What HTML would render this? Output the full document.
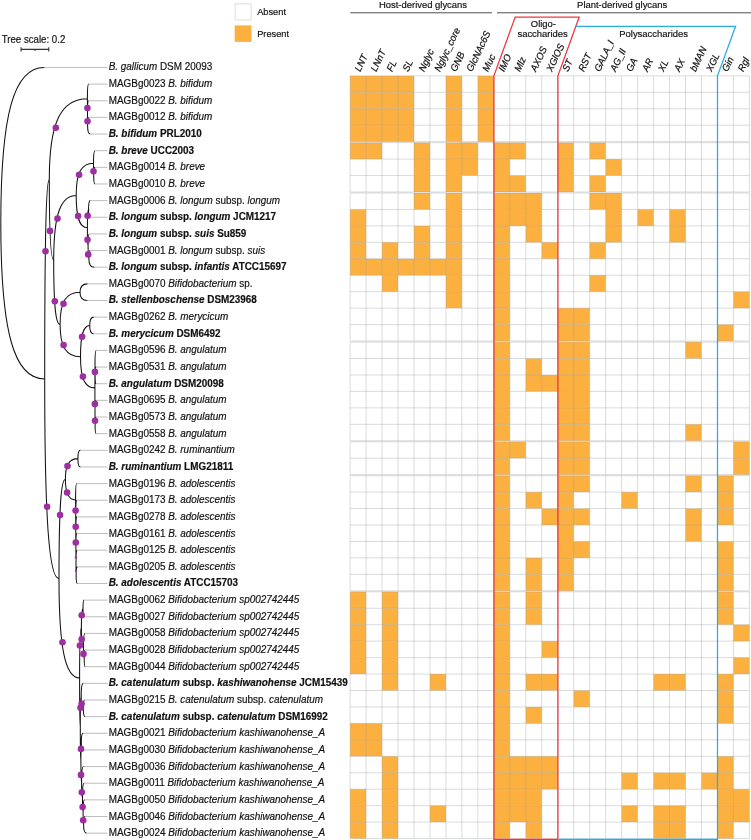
<!DOCTYPE html>
<html lang="en"><head><meta charset="utf-8"><title>Glycan utilisation heat map</title>
<style>html,body{margin:0;padding:0;background:#fff}svg{display:block}</style></head>
<body>
<svg width="751" height="840" viewBox="0 0 751 840">
<rect width="751" height="840" fill="#fff"/>
<g id="heatmap">
<rect x="350.10" y="75.85" width="63.89" height="16.45" fill="#FBB040"/>
<rect x="445.93" y="75.85" width="15.97" height="16.45" fill="#FBB040"/>
<rect x="477.88" y="75.85" width="15.97" height="16.45" fill="#FBB040"/>
<rect x="350.10" y="92.30" width="63.89" height="16.45" fill="#FBB040"/>
<rect x="445.93" y="92.30" width="15.97" height="16.45" fill="#FBB040"/>
<rect x="477.88" y="92.30" width="15.97" height="16.45" fill="#FBB040"/>
<rect x="350.10" y="108.75" width="63.89" height="16.45" fill="#FBB040"/>
<rect x="445.93" y="108.75" width="15.97" height="16.45" fill="#FBB040"/>
<rect x="477.88" y="108.75" width="15.97" height="16.45" fill="#FBB040"/>
<rect x="350.10" y="125.20" width="63.89" height="16.45" fill="#FBB040"/>
<rect x="445.93" y="125.20" width="15.97" height="16.45" fill="#FBB040"/>
<rect x="477.88" y="125.20" width="15.97" height="16.45" fill="#FBB040"/>
<rect x="350.10" y="142.65" width="31.94" height="16.45" fill="#FBB040"/>
<rect x="413.99" y="142.65" width="15.97" height="16.45" fill="#FBB040"/>
<rect x="445.93" y="142.65" width="31.94" height="16.45" fill="#FBB040"/>
<rect x="493.85" y="142.65" width="31.94" height="16.45" fill="#FBB040"/>
<rect x="557.74" y="142.65" width="15.97" height="16.45" fill="#FBB040"/>
<rect x="589.68" y="142.65" width="15.97" height="16.45" fill="#FBB040"/>
<rect x="413.99" y="159.10" width="15.97" height="16.45" fill="#FBB040"/>
<rect x="445.93" y="159.10" width="31.94" height="16.45" fill="#FBB040"/>
<rect x="493.85" y="159.10" width="15.97" height="16.45" fill="#FBB040"/>
<rect x="557.74" y="159.10" width="15.97" height="16.45" fill="#FBB040"/>
<rect x="605.65" y="159.10" width="15.97" height="16.45" fill="#FBB040"/>
<rect x="413.99" y="175.55" width="15.97" height="16.45" fill="#FBB040"/>
<rect x="445.93" y="175.55" width="15.97" height="16.45" fill="#FBB040"/>
<rect x="493.85" y="175.55" width="31.94" height="16.45" fill="#FBB040"/>
<rect x="557.74" y="175.55" width="15.97" height="16.45" fill="#FBB040"/>
<rect x="589.68" y="175.55" width="15.97" height="16.45" fill="#FBB040"/>
<rect x="413.99" y="193.00" width="15.97" height="16.45" fill="#FBB040"/>
<rect x="445.93" y="193.00" width="15.97" height="16.45" fill="#FBB040"/>
<rect x="493.85" y="193.00" width="47.92" height="16.45" fill="#FBB040"/>
<rect x="589.68" y="193.00" width="31.94" height="16.45" fill="#FBB040"/>
<rect x="350.10" y="209.45" width="15.97" height="16.45" fill="#FBB040"/>
<rect x="445.93" y="209.45" width="15.97" height="16.45" fill="#FBB040"/>
<rect x="493.85" y="209.45" width="47.92" height="16.45" fill="#FBB040"/>
<rect x="605.65" y="209.45" width="15.97" height="16.45" fill="#FBB040"/>
<rect x="637.60" y="209.45" width="15.97" height="16.45" fill="#FBB040"/>
<rect x="669.54" y="209.45" width="15.97" height="16.45" fill="#FBB040"/>
<rect x="350.10" y="225.90" width="15.97" height="16.45" fill="#FBB040"/>
<rect x="413.99" y="225.90" width="15.97" height="16.45" fill="#FBB040"/>
<rect x="445.93" y="225.90" width="15.97" height="16.45" fill="#FBB040"/>
<rect x="493.85" y="225.90" width="15.97" height="16.45" fill="#FBB040"/>
<rect x="525.79" y="225.90" width="15.97" height="16.45" fill="#FBB040"/>
<rect x="605.65" y="225.90" width="15.97" height="16.45" fill="#FBB040"/>
<rect x="669.54" y="225.90" width="15.97" height="16.45" fill="#FBB040"/>
<rect x="350.10" y="242.35" width="15.97" height="16.45" fill="#FBB040"/>
<rect x="382.04" y="242.35" width="15.97" height="16.45" fill="#FBB040"/>
<rect x="413.99" y="242.35" width="15.97" height="16.45" fill="#FBB040"/>
<rect x="445.93" y="242.35" width="15.97" height="16.45" fill="#FBB040"/>
<rect x="493.85" y="242.35" width="15.97" height="16.45" fill="#FBB040"/>
<rect x="541.76" y="242.35" width="15.97" height="16.45" fill="#FBB040"/>
<rect x="589.68" y="242.35" width="15.97" height="16.45" fill="#FBB040"/>
<rect x="350.10" y="258.80" width="111.80" height="16.45" fill="#FBB040"/>
<rect x="493.85" y="258.80" width="15.97" height="16.45" fill="#FBB040"/>
<rect x="382.04" y="275.25" width="15.97" height="16.45" fill="#FBB040"/>
<rect x="445.93" y="275.25" width="15.97" height="16.45" fill="#FBB040"/>
<rect x="493.85" y="275.25" width="15.97" height="16.45" fill="#FBB040"/>
<rect x="589.68" y="275.25" width="15.97" height="16.45" fill="#FBB040"/>
<rect x="445.93" y="291.70" width="15.97" height="16.45" fill="#FBB040"/>
<rect x="493.85" y="291.70" width="15.97" height="16.45" fill="#FBB040"/>
<rect x="733.43" y="291.70" width="15.97" height="16.45" fill="#FBB040"/>
<rect x="493.85" y="308.15" width="15.97" height="16.45" fill="#FBB040"/>
<rect x="557.74" y="308.15" width="31.94" height="16.45" fill="#FBB040"/>
<rect x="493.85" y="324.60" width="15.97" height="16.45" fill="#FBB040"/>
<rect x="557.74" y="324.60" width="31.94" height="16.45" fill="#FBB040"/>
<rect x="717.46" y="324.60" width="15.97" height="16.45" fill="#FBB040"/>
<rect x="493.85" y="342.05" width="15.97" height="16.45" fill="#FBB040"/>
<rect x="557.74" y="342.05" width="31.94" height="16.45" fill="#FBB040"/>
<rect x="685.51" y="342.05" width="15.97" height="16.45" fill="#FBB040"/>
<rect x="493.85" y="358.50" width="15.97" height="16.45" fill="#FBB040"/>
<rect x="525.79" y="358.50" width="15.97" height="16.45" fill="#FBB040"/>
<rect x="557.74" y="358.50" width="31.94" height="16.45" fill="#FBB040"/>
<rect x="493.85" y="374.95" width="15.97" height="16.45" fill="#FBB040"/>
<rect x="525.79" y="374.95" width="63.89" height="16.45" fill="#FBB040"/>
<rect x="493.85" y="391.40" width="15.97" height="16.45" fill="#FBB040"/>
<rect x="557.74" y="391.40" width="31.94" height="16.45" fill="#FBB040"/>
<rect x="493.85" y="407.85" width="15.97" height="16.45" fill="#FBB040"/>
<rect x="557.74" y="407.85" width="31.94" height="16.45" fill="#FBB040"/>
<rect x="493.85" y="424.30" width="15.97" height="16.45" fill="#FBB040"/>
<rect x="557.74" y="424.30" width="31.94" height="16.45" fill="#FBB040"/>
<rect x="685.51" y="424.30" width="15.97" height="16.45" fill="#FBB040"/>
<rect x="493.85" y="441.75" width="31.94" height="16.45" fill="#FBB040"/>
<rect x="557.74" y="441.75" width="31.94" height="16.45" fill="#FBB040"/>
<rect x="733.43" y="441.75" width="15.97" height="16.45" fill="#FBB040"/>
<rect x="493.85" y="458.20" width="15.97" height="16.45" fill="#FBB040"/>
<rect x="557.74" y="458.20" width="31.94" height="16.45" fill="#FBB040"/>
<rect x="733.43" y="458.20" width="15.97" height="16.45" fill="#FBB040"/>
<rect x="493.85" y="475.65" width="15.97" height="16.45" fill="#FBB040"/>
<rect x="557.74" y="475.65" width="31.94" height="16.45" fill="#FBB040"/>
<rect x="685.51" y="475.65" width="15.97" height="16.45" fill="#FBB040"/>
<rect x="717.46" y="475.65" width="15.97" height="16.45" fill="#FBB040"/>
<rect x="493.85" y="492.10" width="15.97" height="16.45" fill="#FBB040"/>
<rect x="525.79" y="492.10" width="15.97" height="16.45" fill="#FBB040"/>
<rect x="557.74" y="492.10" width="15.97" height="16.45" fill="#FBB040"/>
<rect x="621.62" y="492.10" width="15.97" height="16.45" fill="#FBB040"/>
<rect x="717.46" y="492.10" width="15.97" height="16.45" fill="#FBB040"/>
<rect x="493.85" y="508.55" width="15.97" height="16.45" fill="#FBB040"/>
<rect x="541.76" y="508.55" width="47.92" height="16.45" fill="#FBB040"/>
<rect x="685.51" y="508.55" width="15.97" height="16.45" fill="#FBB040"/>
<rect x="717.46" y="508.55" width="15.97" height="16.45" fill="#FBB040"/>
<rect x="493.85" y="525.00" width="15.97" height="16.45" fill="#FBB040"/>
<rect x="557.74" y="525.00" width="15.97" height="16.45" fill="#FBB040"/>
<rect x="685.51" y="525.00" width="15.97" height="16.45" fill="#FBB040"/>
<rect x="493.85" y="541.45" width="15.97" height="16.45" fill="#FBB040"/>
<rect x="557.74" y="541.45" width="31.94" height="16.45" fill="#FBB040"/>
<rect x="717.46" y="541.45" width="15.97" height="16.45" fill="#FBB040"/>
<rect x="493.85" y="557.90" width="15.97" height="16.45" fill="#FBB040"/>
<rect x="525.79" y="557.90" width="15.97" height="16.45" fill="#FBB040"/>
<rect x="557.74" y="557.90" width="15.97" height="16.45" fill="#FBB040"/>
<rect x="717.46" y="557.90" width="15.97" height="16.45" fill="#FBB040"/>
<rect x="493.85" y="574.35" width="15.97" height="16.45" fill="#FBB040"/>
<rect x="525.79" y="574.35" width="15.97" height="16.45" fill="#FBB040"/>
<rect x="557.74" y="574.35" width="15.97" height="16.45" fill="#FBB040"/>
<rect x="717.46" y="574.35" width="15.97" height="16.45" fill="#FBB040"/>
<rect x="350.10" y="591.80" width="15.97" height="16.45" fill="#FBB040"/>
<rect x="382.04" y="591.80" width="15.97" height="16.45" fill="#FBB040"/>
<rect x="493.85" y="591.80" width="15.97" height="16.45" fill="#FBB040"/>
<rect x="525.79" y="591.80" width="15.97" height="16.45" fill="#FBB040"/>
<rect x="717.46" y="591.80" width="15.97" height="16.45" fill="#FBB040"/>
<rect x="350.10" y="608.25" width="15.97" height="16.45" fill="#FBB040"/>
<rect x="382.04" y="608.25" width="15.97" height="16.45" fill="#FBB040"/>
<rect x="493.85" y="608.25" width="15.97" height="16.45" fill="#FBB040"/>
<rect x="525.79" y="608.25" width="15.97" height="16.45" fill="#FBB040"/>
<rect x="717.46" y="608.25" width="15.97" height="16.45" fill="#FBB040"/>
<rect x="350.10" y="624.70" width="15.97" height="16.45" fill="#FBB040"/>
<rect x="382.04" y="624.70" width="15.97" height="16.45" fill="#FBB040"/>
<rect x="493.85" y="624.70" width="15.97" height="16.45" fill="#FBB040"/>
<rect x="733.43" y="624.70" width="15.97" height="16.45" fill="#FBB040"/>
<rect x="350.10" y="641.15" width="15.97" height="16.45" fill="#FBB040"/>
<rect x="382.04" y="641.15" width="15.97" height="16.45" fill="#FBB040"/>
<rect x="493.85" y="641.15" width="15.97" height="16.45" fill="#FBB040"/>
<rect x="541.76" y="641.15" width="15.97" height="16.45" fill="#FBB040"/>
<rect x="350.10" y="657.60" width="15.97" height="16.45" fill="#FBB040"/>
<rect x="382.04" y="657.60" width="15.97" height="16.45" fill="#FBB040"/>
<rect x="493.85" y="657.60" width="15.97" height="16.45" fill="#FBB040"/>
<rect x="733.43" y="657.60" width="15.97" height="16.45" fill="#FBB040"/>
<rect x="382.04" y="674.05" width="15.97" height="16.45" fill="#FBB040"/>
<rect x="429.96" y="674.05" width="15.97" height="16.45" fill="#FBB040"/>
<rect x="493.85" y="674.05" width="15.97" height="16.45" fill="#FBB040"/>
<rect x="525.79" y="674.05" width="31.94" height="16.45" fill="#FBB040"/>
<rect x="653.57" y="674.05" width="31.94" height="16.45" fill="#FBB040"/>
<rect x="717.46" y="674.05" width="15.97" height="16.45" fill="#FBB040"/>
<rect x="493.85" y="690.50" width="15.97" height="16.45" fill="#FBB040"/>
<rect x="573.71" y="690.50" width="15.97" height="16.45" fill="#FBB040"/>
<rect x="717.46" y="690.50" width="15.97" height="16.45" fill="#FBB040"/>
<rect x="493.85" y="706.95" width="15.97" height="16.45" fill="#FBB040"/>
<rect x="525.79" y="706.95" width="15.97" height="16.45" fill="#FBB040"/>
<rect x="717.46" y="706.95" width="15.97" height="16.45" fill="#FBB040"/>
<rect x="350.10" y="723.40" width="31.94" height="16.45" fill="#FBB040"/>
<rect x="493.85" y="723.40" width="15.97" height="16.45" fill="#FBB040"/>
<rect x="350.10" y="739.85" width="31.94" height="16.45" fill="#FBB040"/>
<rect x="493.85" y="739.85" width="15.97" height="16.45" fill="#FBB040"/>
<rect x="382.04" y="756.30" width="15.97" height="16.45" fill="#FBB040"/>
<rect x="493.85" y="756.30" width="63.89" height="16.45" fill="#FBB040"/>
<rect x="717.46" y="756.30" width="15.97" height="16.45" fill="#FBB040"/>
<rect x="382.04" y="772.75" width="15.97" height="16.45" fill="#FBB040"/>
<rect x="493.85" y="772.75" width="63.89" height="16.45" fill="#FBB040"/>
<rect x="621.62" y="772.75" width="15.97" height="16.45" fill="#FBB040"/>
<rect x="653.57" y="772.75" width="31.94" height="16.45" fill="#FBB040"/>
<rect x="701.48" y="772.75" width="31.94" height="16.45" fill="#FBB040"/>
<rect x="350.10" y="789.20" width="15.97" height="16.45" fill="#FBB040"/>
<rect x="382.04" y="789.20" width="15.97" height="16.45" fill="#FBB040"/>
<rect x="493.85" y="789.20" width="47.92" height="16.45" fill="#FBB040"/>
<rect x="717.46" y="789.20" width="31.94" height="16.45" fill="#FBB040"/>
<rect x="350.10" y="805.65" width="15.97" height="16.45" fill="#FBB040"/>
<rect x="382.04" y="805.65" width="15.97" height="16.45" fill="#FBB040"/>
<rect x="429.96" y="805.65" width="15.97" height="16.45" fill="#FBB040"/>
<rect x="493.85" y="805.65" width="47.92" height="16.45" fill="#FBB040"/>
<rect x="621.62" y="805.65" width="15.97" height="16.45" fill="#FBB040"/>
<rect x="653.57" y="805.65" width="31.94" height="16.45" fill="#FBB040"/>
<rect x="717.46" y="805.65" width="31.94" height="16.45" fill="#FBB040"/>
<rect x="350.10" y="822.10" width="15.97" height="16.45" fill="#FBB040"/>
<rect x="382.04" y="822.10" width="15.97" height="16.45" fill="#FBB040"/>
<rect x="493.85" y="822.10" width="15.97" height="16.45" fill="#FBB040"/>
<rect x="525.79" y="822.10" width="15.97" height="16.45" fill="#FBB040"/>
<rect x="653.57" y="822.10" width="31.94" height="16.45" fill="#FBB040"/>
<rect x="717.46" y="822.10" width="15.97" height="16.45" fill="#FBB040"/>
<g stroke="#9aa0a6" stroke-opacity="0.45" stroke-width="0.85" fill="none">
<path d="M350.10 75.85V141.65M366.07 75.85V141.65M382.04 75.85V141.65M398.02 75.85V141.65M413.99 75.85V141.65M429.96 75.85V141.65M445.93 75.85V141.65M461.90 75.85V141.65M477.88 75.85V141.65M493.85 75.85V141.65M509.82 75.85V141.65M525.79 75.85V141.65M541.76 75.85V141.65M557.74 75.85V141.65M573.71 75.85V141.65M589.68 75.85V141.65M605.65 75.85V141.65M621.62 75.85V141.65M637.60 75.85V141.65M653.57 75.85V141.65M669.54 75.85V141.65M685.51 75.85V141.65M701.48 75.85V141.65M717.46 75.85V141.65M733.43 75.85V141.65M749.40 75.85V141.65M350.10 75.85H749.40M350.10 92.30H749.40M350.10 108.75H749.40M350.10 125.20H749.40M350.10 141.65H749.40"/>
<path d="M350.10 142.65V192.00M366.07 142.65V192.00M382.04 142.65V192.00M398.02 142.65V192.00M413.99 142.65V192.00M429.96 142.65V192.00M445.93 142.65V192.00M461.90 142.65V192.00M477.88 142.65V192.00M493.85 142.65V192.00M509.82 142.65V192.00M525.79 142.65V192.00M541.76 142.65V192.00M557.74 142.65V192.00M573.71 142.65V192.00M589.68 142.65V192.00M605.65 142.65V192.00M621.62 142.65V192.00M637.60 142.65V192.00M653.57 142.65V192.00M669.54 142.65V192.00M685.51 142.65V192.00M701.48 142.65V192.00M717.46 142.65V192.00M733.43 142.65V192.00M749.40 142.65V192.00M350.10 142.65H749.40M350.10 159.10H749.40M350.10 175.55H749.40M350.10 192.00H749.40"/>
<path d="M350.10 193.00V341.05M366.07 193.00V341.05M382.04 193.00V341.05M398.02 193.00V341.05M413.99 193.00V341.05M429.96 193.00V341.05M445.93 193.00V341.05M461.90 193.00V341.05M477.88 193.00V341.05M493.85 193.00V341.05M509.82 193.00V341.05M525.79 193.00V341.05M541.76 193.00V341.05M557.74 193.00V341.05M573.71 193.00V341.05M589.68 193.00V341.05M605.65 193.00V341.05M621.62 193.00V341.05M637.60 193.00V341.05M653.57 193.00V341.05M669.54 193.00V341.05M685.51 193.00V341.05M701.48 193.00V341.05M717.46 193.00V341.05M733.43 193.00V341.05M749.40 193.00V341.05M350.10 193.00H749.40M350.10 209.45H749.40M350.10 225.90H749.40M350.10 242.35H749.40M350.10 258.80H749.40M350.10 275.25H749.40M350.10 291.70H749.40M350.10 308.15H749.40M350.10 324.60H749.40M350.10 341.05H749.40"/>
<path d="M350.10 342.05V440.75M366.07 342.05V440.75M382.04 342.05V440.75M398.02 342.05V440.75M413.99 342.05V440.75M429.96 342.05V440.75M445.93 342.05V440.75M461.90 342.05V440.75M477.88 342.05V440.75M493.85 342.05V440.75M509.82 342.05V440.75M525.79 342.05V440.75M541.76 342.05V440.75M557.74 342.05V440.75M573.71 342.05V440.75M589.68 342.05V440.75M605.65 342.05V440.75M621.62 342.05V440.75M637.60 342.05V440.75M653.57 342.05V440.75M669.54 342.05V440.75M685.51 342.05V440.75M701.48 342.05V440.75M717.46 342.05V440.75M733.43 342.05V440.75M749.40 342.05V440.75M350.10 342.05H749.40M350.10 358.50H749.40M350.10 374.95H749.40M350.10 391.40H749.40M350.10 407.85H749.40M350.10 424.30H749.40M350.10 440.75H749.40"/>
<path d="M350.10 441.75V474.65M366.07 441.75V474.65M382.04 441.75V474.65M398.02 441.75V474.65M413.99 441.75V474.65M429.96 441.75V474.65M445.93 441.75V474.65M461.90 441.75V474.65M477.88 441.75V474.65M493.85 441.75V474.65M509.82 441.75V474.65M525.79 441.75V474.65M541.76 441.75V474.65M557.74 441.75V474.65M573.71 441.75V474.65M589.68 441.75V474.65M605.65 441.75V474.65M621.62 441.75V474.65M637.60 441.75V474.65M653.57 441.75V474.65M669.54 441.75V474.65M685.51 441.75V474.65M701.48 441.75V474.65M717.46 441.75V474.65M733.43 441.75V474.65M749.40 441.75V474.65M350.10 441.75H749.40M350.10 458.20H749.40M350.10 474.65H749.40"/>
<path d="M350.10 475.65V590.80M366.07 475.65V590.80M382.04 475.65V590.80M398.02 475.65V590.80M413.99 475.65V590.80M429.96 475.65V590.80M445.93 475.65V590.80M461.90 475.65V590.80M477.88 475.65V590.80M493.85 475.65V590.80M509.82 475.65V590.80M525.79 475.65V590.80M541.76 475.65V590.80M557.74 475.65V590.80M573.71 475.65V590.80M589.68 475.65V590.80M605.65 475.65V590.80M621.62 475.65V590.80M637.60 475.65V590.80M653.57 475.65V590.80M669.54 475.65V590.80M685.51 475.65V590.80M701.48 475.65V590.80M717.46 475.65V590.80M733.43 475.65V590.80M749.40 475.65V590.80M350.10 475.65H749.40M350.10 492.10H749.40M350.10 508.55H749.40M350.10 525.00H749.40M350.10 541.45H749.40M350.10 557.90H749.40M350.10 574.35H749.40M350.10 590.80H749.40"/>
<path d="M350.10 591.80V838.55M366.07 591.80V838.55M382.04 591.80V838.55M398.02 591.80V838.55M413.99 591.80V838.55M429.96 591.80V838.55M445.93 591.80V838.55M461.90 591.80V838.55M477.88 591.80V838.55M493.85 591.80V838.55M509.82 591.80V838.55M525.79 591.80V838.55M541.76 591.80V838.55M557.74 591.80V838.55M573.71 591.80V838.55M589.68 591.80V838.55M605.65 591.80V838.55M621.62 591.80V838.55M637.60 591.80V838.55M653.57 591.80V838.55M669.54 591.80V838.55M685.51 591.80V838.55M701.48 591.80V838.55M717.46 591.80V838.55M733.43 591.80V838.55M749.40 591.80V838.55M350.10 591.80H749.40M350.10 608.25H749.40M350.10 624.70H749.40M350.10 641.15H749.40M350.10 657.60H749.40M350.10 674.05H749.40M350.10 690.50H749.40M350.10 706.95H749.40M350.10 723.40H749.40M350.10 739.85H749.40M350.10 756.30H749.40M350.10 772.75H749.40M350.10 789.20H749.40M350.10 805.65H749.40M350.10 822.10H749.40M350.10 838.55H749.40"/>
</g>
</g>
<path d="M493.9 839.3L493.9 75.8L515.2 17L579.2 17L557.9 75.8L557.9 839.3Z" fill="none" stroke="#ee363c" stroke-width="1.25" stroke-linejoin="miter"/>
<path d="M575.8 26.3L735.6 26.3L717.5 75.8L717.5 839.3L558.6 839.3" fill="none" stroke="#2aace2" stroke-width="1.25" stroke-linejoin="miter"/>
<g font-family="Liberation Sans, Arial, sans-serif" font-size="9.83" fill="#111" stroke="#111" stroke-width="0.18">
<text transform="translate(423.00 8.30) scale(0.9615 1)" text-anchor="middle">Host-derived glycans</text>
<text transform="translate(622.20 8.30) scale(0.9615 1)" text-anchor="middle">Plant-derived glycans</text>
<text transform="translate(543.40 26.90) scale(0.9615 1)" text-anchor="middle">Oligo-</text>
<text transform="translate(542.60 36.60) scale(0.9615 1)" text-anchor="middle">saccharides</text>
<text transform="translate(653.60 36.90) scale(0.9615 1)" text-anchor="middle">Polysaccharides</text>
<text transform="translate(257.20 14.60) scale(0.9615 1)" font-size="9.62">Absent</text>
<text transform="translate(257.20 36.70) scale(0.9615 1)" font-size="9.62">Present</text>
<text transform="translate(1.70 42.90) scale(0.9615 1)" font-size="10.07">Tree scale: 0.2</text>
</g>
<path d="M350.3 12.8H491.9M497 12.8H751" stroke="#4d4d4d" stroke-width="1" fill="none"/>
<rect x="235.1" y="3.9" width="16" height="16.1" fill="#fff" stroke="#cdcdcd" stroke-width="0.7"/>
<rect x="234.7" y="25.4" width="16.8" height="16.5" fill="#FBB040"/>
<path d="M21.1 49.4H48.8M21.1 47.2V51.6M48.8 47.2V51.6M35 49.4V51" stroke="#333" stroke-width="1.1" fill="none"/>
<g font-family="Liberation Sans, Arial, sans-serif" font-size="9.83" fill="#111" stroke="#111" stroke-width="0.18" font-style="italic">
<text transform="translate(360.3 72.3) rotate(-64.5) scale(0.9615 1)">LNT</text>
<text transform="translate(376.3 72.3) rotate(-64.5) scale(0.9615 1)">LNnT</text>
<text transform="translate(392.2 72.3) rotate(-64.5) scale(0.9615 1)">FL</text>
<text transform="translate(408.2 72.3) rotate(-64.5) scale(0.9615 1)">SL</text>
<text transform="translate(424.2 72.3) rotate(-64.5) scale(0.9615 1)">Nglyc</text>
<text transform="translate(440.1 72.3) rotate(-64.5) scale(0.9615 1)">Nglyc_core</text>
<text transform="translate(456.1 72.3) rotate(-64.5) scale(0.9615 1)">GNB</text>
<text transform="translate(472.1 72.3) rotate(-64.5) scale(0.9615 1)">GlcNAc6S</text>
<text transform="translate(488.1 72.3) rotate(-64.5) scale(0.9615 1)">Muc</text>
<text transform="translate(504.0 72.3) rotate(-64.5) scale(0.9615 1)">IMO</text>
<text transform="translate(520.0 72.3) rotate(-64.5) scale(0.9615 1)">Mlz</text>
<text transform="translate(536.0 72.3) rotate(-64.5) scale(0.9615 1)">AXOS</text>
<text transform="translate(552.0 72.3) rotate(-64.5) scale(0.9615 1)">XGlOS</text>
<text transform="translate(567.9 72.3) rotate(-64.5) scale(0.9615 1)">ST</text>
<text transform="translate(583.9 72.3) rotate(-64.5) scale(0.9615 1)">RST</text>
<text transform="translate(599.9 72.3) rotate(-64.5) scale(0.9615 1)">GALA_I</text>
<text transform="translate(615.8 72.3) rotate(-64.5) scale(0.9615 1)">AG_II</text>
<text transform="translate(631.8 72.3) rotate(-64.5) scale(0.9615 1)">GA</text>
<text transform="translate(647.8 72.3) rotate(-64.5) scale(0.9615 1)">AR</text>
<text transform="translate(663.8 72.3) rotate(-64.5) scale(0.9615 1)">XL</text>
<text transform="translate(679.7 72.3) rotate(-64.5) scale(0.9615 1)">AX</text>
<text transform="translate(695.7 72.3) rotate(-64.5) scale(0.9615 1)">bMAN</text>
<text transform="translate(711.7 72.3) rotate(-64.5) scale(0.9615 1)">XGL</text>
<text transform="translate(727.6 72.3) rotate(-64.5) scale(0.9615 1)">Gin</text>
<text transform="translate(743.6 72.3) rotate(-64.5) scale(0.9615 1)">Rgl</text>
</g>
<g font-family="Liberation Sans, Arial, sans-serif" font-size="10.32" fill="#111" stroke="#111" stroke-width="0.18">
<text transform="translate(108.7 70.45) scale(0.9615 1)" xml:space="preserve"><tspan font-style="italic">B. gallicum</tspan><tspan> DSM 20093</tspan></text>
<text transform="translate(108.7 87.10) scale(0.9615 1)" xml:space="preserve"><tspan>MAGBg0023 </tspan><tspan font-style="italic">B. bifidum</tspan></text>
<text transform="translate(108.7 103.74) scale(0.9615 1)" xml:space="preserve"><tspan>MAGBg0022 </tspan><tspan font-style="italic">B. bifidum</tspan></text>
<text transform="translate(108.7 120.39) scale(0.9615 1)" xml:space="preserve"><tspan>MAGBg0012 </tspan><tspan font-style="italic">B. bifidum</tspan></text>
<text transform="translate(108.7 137.03) scale(0.9615 1)" font-weight="bold" xml:space="preserve"><tspan font-style="italic">B. bifidum</tspan><tspan> PRL2010</tspan></text>
<text transform="translate(108.7 153.68) scale(0.9615 1)" font-weight="bold" xml:space="preserve"><tspan font-style="italic">B. breve</tspan><tspan> UCC2003</tspan></text>
<text transform="translate(108.7 170.33) scale(0.9615 1)" xml:space="preserve"><tspan>MAGBg0014 </tspan><tspan font-style="italic">B. breve</tspan></text>
<text transform="translate(108.7 186.97) scale(0.9615 1)" xml:space="preserve"><tspan>MAGBg0010 </tspan><tspan font-style="italic">B. breve</tspan></text>
<text transform="translate(108.7 203.62) scale(0.9615 1)" xml:space="preserve"><tspan>MAGBg0006 </tspan><tspan font-style="italic">B. longum</tspan><tspan> subsp. </tspan><tspan font-style="italic">longum</tspan></text>
<text transform="translate(108.7 220.26) scale(0.9615 1)" font-weight="bold" xml:space="preserve"><tspan font-style="italic">B. longum</tspan><tspan> subsp. </tspan><tspan font-style="italic">longum</tspan><tspan> JCM1217</tspan></text>
<text transform="translate(108.7 236.91) scale(0.9615 1)" font-weight="bold" xml:space="preserve"><tspan font-style="italic">B. longum</tspan><tspan> subsp. </tspan><tspan font-style="italic">suis</tspan><tspan> Su859</tspan></text>
<text transform="translate(108.7 253.56) scale(0.9615 1)" xml:space="preserve"><tspan>MAGBg0001 </tspan><tspan font-style="italic">B. longum</tspan><tspan> subsp. </tspan><tspan font-style="italic">suis</tspan></text>
<text transform="translate(108.7 270.20) scale(0.9615 1)" font-weight="bold" xml:space="preserve"><tspan font-style="italic">B. longum</tspan><tspan> subsp. </tspan><tspan font-style="italic">infantis</tspan><tspan> ATCC15697</tspan></text>
<text transform="translate(108.7 286.85) scale(0.9615 1)" xml:space="preserve"><tspan>MAGBg0070 </tspan><tspan font-style="italic">Bifidobacterium</tspan><tspan> sp.</tspan></text>
<text transform="translate(108.7 303.49) scale(0.9615 1)" font-weight="bold" xml:space="preserve"><tspan font-style="italic">B. stellenboschense</tspan><tspan> DSM23968</tspan></text>
<text transform="translate(108.7 320.14) scale(0.9615 1)" xml:space="preserve"><tspan>MAGBg0262 </tspan><tspan font-style="italic">B. merycicum</tspan></text>
<text transform="translate(108.7 336.79) scale(0.9615 1)" font-weight="bold" xml:space="preserve"><tspan font-style="italic">B. merycicum</tspan><tspan> DSM6492</tspan></text>
<text transform="translate(108.7 353.43) scale(0.9615 1)" xml:space="preserve"><tspan>MAGBg0596 </tspan><tspan font-style="italic">B. angulatum</tspan></text>
<text transform="translate(108.7 370.08) scale(0.9615 1)" xml:space="preserve"><tspan>MAGBg0531 </tspan><tspan font-style="italic">B. angulatum</tspan></text>
<text transform="translate(108.7 386.72) scale(0.9615 1)" font-weight="bold" xml:space="preserve"><tspan font-style="italic">B. angulatum</tspan><tspan> DSM20098</tspan></text>
<text transform="translate(108.7 403.37) scale(0.9615 1)" xml:space="preserve"><tspan>MAGBg0695 </tspan><tspan font-style="italic">B. angulatum</tspan></text>
<text transform="translate(108.7 420.02) scale(0.9615 1)" xml:space="preserve"><tspan>MAGBg0573 </tspan><tspan font-style="italic">B. angulatum</tspan></text>
<text transform="translate(108.7 436.66) scale(0.9615 1)" xml:space="preserve"><tspan>MAGBg0558 </tspan><tspan font-style="italic">B. angulatum</tspan></text>
<text transform="translate(108.7 453.31) scale(0.9615 1)" xml:space="preserve"><tspan>MAGBg0242 </tspan><tspan font-style="italic">B. ruminantium</tspan></text>
<text transform="translate(108.7 469.95) scale(0.9615 1)" font-weight="bold" xml:space="preserve"><tspan font-style="italic">B. ruminantium</tspan><tspan> LMG21811</tspan></text>
<text transform="translate(108.7 486.60) scale(0.9615 1)" xml:space="preserve"><tspan>MAGBg0196 </tspan><tspan font-style="italic">B. adolescentis</tspan></text>
<text transform="translate(108.7 503.25) scale(0.9615 1)" xml:space="preserve"><tspan>MAGBg0173 </tspan><tspan font-style="italic">B. adolescentis</tspan></text>
<text transform="translate(108.7 519.89) scale(0.9615 1)" xml:space="preserve"><tspan>MAGBg0278 </tspan><tspan font-style="italic">B. adolescentis</tspan></text>
<text transform="translate(108.7 536.54) scale(0.9615 1)" xml:space="preserve"><tspan>MAGBg0161 </tspan><tspan font-style="italic">B. adolescentis</tspan></text>
<text transform="translate(108.7 553.18) scale(0.9615 1)" xml:space="preserve"><tspan>MAGBg0125 </tspan><tspan font-style="italic">B. adolescentis</tspan></text>
<text transform="translate(108.7 569.83) scale(0.9615 1)" xml:space="preserve"><tspan>MAGBg0205 </tspan><tspan font-style="italic">B. adolescentis</tspan></text>
<text transform="translate(108.7 586.48) scale(0.9615 1)" font-weight="bold" xml:space="preserve"><tspan font-style="italic">B. adolescentis</tspan><tspan> ATCC15703</tspan></text>
<text transform="translate(108.7 603.12) scale(0.9615 1)" xml:space="preserve"><tspan>MAGBg0062 </tspan><tspan font-style="italic">Bifidobacterium sp002742445</tspan></text>
<text transform="translate(108.7 619.77) scale(0.9615 1)" xml:space="preserve"><tspan>MAGBg0027 </tspan><tspan font-style="italic">Bifidobacterium sp002742445</tspan></text>
<text transform="translate(108.7 636.41) scale(0.9615 1)" xml:space="preserve"><tspan>MAGBg0058 </tspan><tspan font-style="italic">Bifidobacterium sp002742445</tspan></text>
<text transform="translate(108.7 653.06) scale(0.9615 1)" xml:space="preserve"><tspan>MAGBg0028 </tspan><tspan font-style="italic">Bifidobacterium sp002742445</tspan></text>
<text transform="translate(108.7 669.71) scale(0.9615 1)" xml:space="preserve"><tspan>MAGBg0044 </tspan><tspan font-style="italic">Bifidobacterium sp002742445</tspan></text>
<text transform="translate(108.7 686.35) scale(0.9615 1)" font-weight="bold" xml:space="preserve"><tspan font-style="italic">B. catenulatum</tspan><tspan> subsp. </tspan><tspan font-style="italic">kashiwanohense</tspan><tspan> JCM15439</tspan></text>
<text transform="translate(108.7 703.00) scale(0.9615 1)" xml:space="preserve"><tspan>MAGBg0215 </tspan><tspan font-style="italic">B. catenulatum</tspan><tspan> subsp. </tspan><tspan font-style="italic">catenulatum</tspan></text>
<text transform="translate(108.7 719.64) scale(0.9615 1)" font-weight="bold" xml:space="preserve"><tspan font-style="italic">B. catenulatum</tspan><tspan> subsp. </tspan><tspan font-style="italic">catenulatum</tspan><tspan> DSM16992</tspan></text>
<text transform="translate(108.7 736.29) scale(0.9615 1)" xml:space="preserve"><tspan>MAGBg0021 </tspan><tspan font-style="italic">Bifidobacterium kashiwanohense_A</tspan></text>
<text transform="translate(108.7 752.94) scale(0.9615 1)" xml:space="preserve"><tspan>MAGBg0030 </tspan><tspan font-style="italic">Bifidobacterium kashiwanohense_A</tspan></text>
<text transform="translate(108.7 769.58) scale(0.9615 1)" xml:space="preserve"><tspan>MAGBg0036 </tspan><tspan font-style="italic">Bifidobacterium kashiwanohense_A</tspan></text>
<text transform="translate(108.7 786.23) scale(0.9615 1)" xml:space="preserve"><tspan>MAGBg0011 </tspan><tspan font-style="italic">Bifidobacterium kashiwanohense_A</tspan></text>
<text transform="translate(108.7 802.87) scale(0.9615 1)" xml:space="preserve"><tspan>MAGBg0050 </tspan><tspan font-style="italic">Bifidobacterium kashiwanohense_A</tspan></text>
<text transform="translate(108.7 819.52) scale(0.9615 1)" xml:space="preserve"><tspan>MAGBg0046 </tspan><tspan font-style="italic">Bifidobacterium kashiwanohense_A</tspan></text>
<text transform="translate(108.7 836.17) scale(0.9615 1)" xml:space="preserve"><tspan>MAGBg0024 </tspan><tspan font-style="italic">Bifidobacterium kashiwanohense_A</tspan></text>
</g>
<path d="M44.20 67.45H107.5M88.60 84.10H107.5M88.60 100.74H107.5M88.60 117.39H107.5M90.30 134.03H107.5M95.00 150.68H107.5M95.00 167.33H107.5M95.00 183.97H107.5M90.20 200.62H107.5M89.60 217.26H107.5M89.20 233.91H107.5M89.80 250.56H107.5M94.30 267.20H107.5M87.40 283.85H107.5M87.40 300.49H107.5M93.60 317.14H107.5M93.60 333.79H107.5M96.20 350.43H107.5M96.20 367.08H107.5M96.20 383.72H107.5M96.20 400.37H107.5M96.20 417.02H107.5M96.20 433.66H107.5M80.40 450.31H107.5M80.40 466.95H107.5M76.60 483.60H107.5M76.80 500.25H107.5M77.00 516.89H107.5M77.00 533.54H107.5M77.20 550.18H107.5M77.60 566.83H107.5M77.40 583.48H107.5M84.00 600.12H107.5M84.00 616.77H107.5M85.00 633.41H107.5M85.20 650.06H107.5M85.20 666.71H107.5M83.20 683.35H107.5M84.60 700.00H107.5M85.00 716.64H107.5M83.20 733.29H107.5M82.30 749.94H107.5M83.50 766.58H107.5M84.00 783.23H107.5M84.50 799.87H107.5M85.00 816.52H107.5M86.50 833.17H107.5" fill="none" stroke="#b6b6b6" stroke-width="0.9"/>
<path d="M0.80 223.21C0.80 114.18 13.82 67.45 44.20 67.45M0.80 223.21C0.80 332.25 13.97 378.98 44.70 378.98M44.70 378.98C44.70 239.20 46.08 179.29 49.30 179.29M49.30 179.29C49.30 122.85 60.73 98.66 87.40 98.66M87.40 98.66C87.40 88.47 87.76 84.10 88.60 84.10M87.40 98.66C87.40 108.86 87.43 113.23 87.50 113.23M87.50 113.23C87.50 104.49 87.83 100.74 88.60 100.74M87.50 113.23C87.50 121.97 87.53 125.71 87.60 125.71M87.60 125.71C87.60 119.88 87.90 117.39 88.60 117.39M87.60 125.71C87.60 131.54 88.41 134.03 90.30 134.03M49.30 179.29C49.30 235.73 50.62 259.92 53.70 259.92M53.70 259.92C53.70 214.77 60.45 195.42 76.20 195.42M76.20 195.42C76.20 172.84 81.39 163.16 93.50 163.16M93.50 163.16C93.50 154.43 93.95 150.68 95.00 150.68M93.50 163.16C93.50 171.90 93.56 175.65 93.70 175.65M93.70 175.65C93.70 169.82 94.09 167.33 95.00 167.33M93.70 175.65C93.70 181.48 94.09 183.97 95.00 183.97M76.20 195.42C76.20 217.99 79.56 227.67 87.40 227.67M87.40 227.67C87.40 214.56 87.76 208.94 88.60 208.94M88.60 208.94C88.60 203.11 89.08 200.62 90.20 200.62M88.60 208.94C88.60 214.77 88.90 217.26 89.60 217.26M87.40 227.67C87.40 240.78 87.61 246.39 88.10 246.39M88.10 246.39C88.10 237.66 88.43 233.91 89.20 233.91M88.10 246.39C88.10 255.13 88.34 258.88 88.90 258.88M88.90 258.88C88.90 253.05 89.17 250.56 89.80 250.56M88.90 258.88C88.90 264.71 90.52 267.20 94.30 267.20M53.70 259.92C53.70 305.07 55.62 324.42 60.10 324.42M60.10 324.42C60.10 301.85 66.07 292.17 80.00 292.17M80.00 292.17C80.00 286.34 82.22 283.85 87.40 283.85M80.00 292.17C80.00 298.00 82.22 300.49 87.40 300.49M60.10 324.42C60.10 347.00 66.22 356.67 80.50 356.67M80.50 356.67C80.50 334.83 83.26 325.46 89.70 325.46M89.70 325.46C89.70 319.64 90.87 317.14 93.60 317.14M89.70 325.46C89.70 331.29 90.87 333.79 93.60 333.79M80.50 356.67C80.50 378.52 84.82 387.89 94.90 387.89M94.90 387.89C94.90 370.41 94.93 362.92 95.00 362.92M95.00 362.92C95.00 354.18 95.36 350.43 96.20 350.43M95.00 362.92C95.00 371.66 95.03 375.40 95.10 375.40M95.10 375.40C95.10 369.57 95.43 367.08 96.20 367.08M95.10 375.40C95.10 381.23 95.43 383.72 96.20 383.72M94.90 387.89C94.90 405.36 94.93 412.85 95.00 412.85M95.00 412.85C95.00 404.12 95.36 400.37 96.20 400.37M95.00 412.85C95.00 421.59 95.03 425.34 95.10 425.34M95.10 425.34C95.10 419.51 95.43 417.02 96.20 417.02M95.10 425.34C95.10 431.17 95.43 433.66 96.20 433.66M44.70 378.98C44.70 518.76 48.99 578.66 59.00 578.66M59.00 578.66C59.00 509.12 60.92 479.31 65.40 479.31M65.40 479.31C65.40 464.83 69.15 458.63 77.90 458.63M77.90 458.63C77.90 452.80 78.65 450.31 80.40 450.31M77.90 458.63C77.90 464.46 78.65 466.95 80.40 466.95M65.40 479.31C65.40 493.78 68.46 499.99 75.60 499.99M75.60 499.99C75.60 488.52 75.90 483.60 76.60 483.60M75.60 499.99C75.60 511.46 75.63 516.37 75.70 516.37M75.70 516.37C75.70 505.08 76.03 500.25 76.80 500.25M75.70 516.37C75.70 527.66 75.73 532.50 75.80 532.50M75.80 532.50C75.80 521.57 76.16 516.89 77.00 516.89M75.80 532.50C75.80 543.42 75.83 548.10 75.90 548.10M75.90 548.10C75.90 537.91 76.23 533.54 77.00 533.54M75.90 548.10C75.90 558.30 75.93 562.67 76.00 562.67M76.00 562.67C76.00 553.93 76.36 550.18 77.20 550.18M76.00 562.67C76.00 571.41 76.03 575.15 76.10 575.15M76.10 575.15C76.10 569.33 76.55 566.83 77.60 566.83M76.10 575.15C76.10 580.98 76.49 583.48 77.40 583.48M59.00 578.66C59.00 648.21 65.18 678.02 79.60 678.02M79.60 678.02C79.60 642.43 80.14 627.17 81.40 627.17M81.40 627.17C81.40 614.06 81.88 608.45 83.00 608.45M83.00 608.45C83.00 602.62 83.30 600.12 84.00 600.12M83.00 608.45C83.00 614.27 83.30 616.77 84.00 616.77M81.40 627.17C81.40 640.28 82.00 645.90 83.40 645.90M83.40 645.90C83.40 637.16 83.88 633.41 85.00 633.41M83.40 645.90C83.40 654.64 83.64 658.38 84.20 658.38M84.20 658.38C84.20 652.56 84.50 650.06 85.20 650.06M84.20 658.38C84.20 664.21 84.50 666.71 85.20 666.71M79.60 678.02C79.60 713.61 79.81 728.87 80.30 728.87M80.30 728.87C80.30 705.75 80.57 695.84 81.20 695.84M81.20 695.84C81.20 687.10 81.80 683.35 83.20 683.35M81.20 695.84C81.20 704.58 81.83 708.32 83.30 708.32M83.30 708.32C83.30 702.49 83.69 700.00 84.60 700.00M83.30 708.32C83.30 714.15 83.81 716.64 85.00 716.64M80.30 728.87C80.30 751.99 80.48 761.90 80.90 761.90M80.90 761.90C80.90 747.70 81.02 741.61 81.30 741.61M81.30 741.61C81.30 735.79 81.87 733.29 83.20 733.29M81.30 741.61C81.30 747.44 81.60 749.94 82.30 749.94M80.90 761.90C80.90 776.10 81.11 782.19 81.60 782.19M81.60 782.19C81.60 771.26 82.17 766.58 83.50 766.58M81.60 782.19C81.60 793.11 81.87 797.79 82.50 797.79M82.50 797.79C82.50 787.60 82.95 783.23 84.00 783.23M82.50 797.79C82.50 807.99 82.68 812.36 83.10 812.36M83.10 812.36C83.10 803.62 83.52 799.87 84.50 799.87M83.10 812.36C83.10 821.10 83.25 824.84 83.60 824.84M83.60 824.84C83.60 819.02 84.02 816.52 85.00 816.52M83.60 824.84C83.60 830.67 84.47 833.17 86.50 833.17" fill="none" stroke="#111" stroke-width="1.05" stroke-linecap="butt"/>
<g fill="#9d2fa3">
<circle cx="45.5" cy="251.2" r="3.3"/>
<circle cx="55.8" cy="127.7" r="3.3"/>
<circle cx="87.4" cy="108.0" r="3.3"/>
<circle cx="87.5" cy="121.2" r="3.3"/>
<circle cx="50.0" cy="230.9" r="3.3"/>
<circle cx="57.5" cy="218.6" r="3.3"/>
<circle cx="79.1" cy="174.8" r="3.3"/>
<circle cx="93.5" cy="171.2" r="3.3"/>
<circle cx="78.1" cy="216.1" r="3.3"/>
<circle cx="87.6" cy="215.7" r="3.3"/>
<circle cx="87.5" cy="239.7" r="3.3"/>
<circle cx="88.2" cy="254.4" r="3.3"/>
<circle cx="54.8" cy="301.2" r="3.3"/>
<circle cx="63.5" cy="303.8" r="3.3"/>
<circle cx="63.6" cy="345.1" r="3.3"/>
<circle cx="82.1" cy="336.7" r="3.3"/>
<circle cx="82.9" cy="376.6" r="3.3"/>
<circle cx="94.9" cy="371.9" r="3.3"/>
<circle cx="94.9" cy="403.9" r="3.3"/>
<circle cx="95.0" cy="420.8" r="3.3"/>
<circle cx="47.1" cy="506.8" r="3.3"/>
<circle cx="60.1" cy="515.1" r="3.3"/>
<circle cx="67.5" cy="466.1" r="3.3"/>
<circle cx="67.1" cy="492.5" r="3.3"/>
<circle cx="75.6" cy="510.5" r="3.3"/>
<circle cx="75.7" cy="526.7" r="3.3"/>
<circle cx="75.8" cy="542.5" r="3.3"/>
<circle cx="75.9" cy="557.4" r="1.2"/>
<circle cx="76.0" cy="570.7" r="1.2"/>
<circle cx="62.5" cy="642.3" r="3.3"/>
<circle cx="79.9" cy="645.5" r="3.3"/>
<circle cx="81.7" cy="615.2" r="3.3"/>
<circle cx="81.7" cy="639.2" r="3.3"/>
<circle cx="83.5" cy="653.9" r="3.3"/>
<circle cx="80.5" cy="707.7" r="3.3"/>
<circle cx="81.6" cy="703.8" r="3.3"/>
<circle cx="81.0" cy="748.9" r="3.3"/>
<circle cx="81.0" cy="774.9" r="3.3"/>
<circle cx="81.8" cy="792.2" r="3.3"/>
<circle cx="82.6" cy="807.1" r="3.3"/>
<circle cx="83.2" cy="820.3" r="3.3"/>
</g>
</svg>
</body></html>
